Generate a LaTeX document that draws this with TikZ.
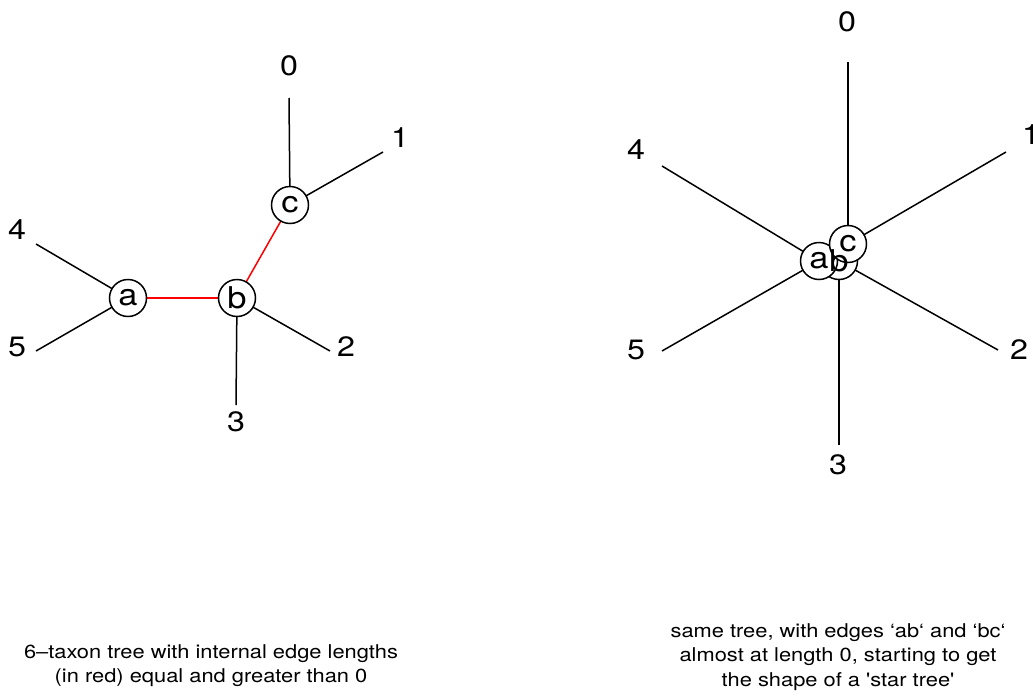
\documentclass[tikz,border=0pt]{standalone}
\usepackage{fontspec}
\setmainfont{TeX Gyre Heros}[FakeStretch=1.15]
\newfontfamily\capfont{TeX Gyre Heros}[Ligatures=TeXOff, FakeStretch=1.15]
\begin{document}
\begin{tikzpicture}[x=1pt, y=-1pt,
  vertex/.style={draw, circle, fill=white, line width=1.5pt, minimum size=37pt, inner sep=0pt},
  vertexletter/.style={inner sep=0pt, font=\fontsize{30}{32}\selectfont},
  leaflabel/.style={inner sep=0pt, font=\fontsize{28}{30}\selectfont},
  branch/.style={line width=1.5pt, black},
  inner/.style={line width=1.5pt, red},
  caption/.style={align=center, inner sep=0pt, font=\capfont\fontsize{19}{24.5}\selectfont}]
\useasboundingbox (0,0) rectangle (1033,696);
\clip (0,0) rectangle (1033,696);

% ---------- tree with positive internal edges ----------
\coordinate (p0) at (289,98);
\coordinate (p1) at (383,152);
\coordinate (p2) at (330,351);
\coordinate (p3) at (236,405);
\coordinate (p4) at (36,244);
\coordinate (p5) at (36,351);
\coordinate (pa) at (128,298);
\coordinate (pb) at (237,298);
\coordinate (pc) at (290,205);

\draw[branch] (pc) -- (p0);
\draw[branch] (pc) -- (p1);
\draw[branch] (pb) -- (p2);
\draw[branch] (pb) -- (p3);
\draw[branch] (pa) -- (p4);
\draw[branch] (pa) -- (p5);
\draw[inner] (pa) -- (pb);
\draw[inner] (pb) -- (pc);

\node[vertex] (na) at (pa) {};
\node[vertex] (nb) at (pb) {};
\node[vertex] (nc) at (pc) {};
\node[vertexletter] at (na) {a};
\node[vertexletter] at (nb) {b};
\node[vertexletter] at (nc) {c};

\node[leaflabel] (t0) at (289,66) {0};
\node[leaflabel] (t1) at (400,138) {1};
\node[leaflabel] (t2) at (346,347) {2};
\node[leaflabel] (t3) at (236,422) {3};
\node[leaflabel] (t4) at (17,230) {4};
\node[leaflabel] (t5) at (17,347) {5};

% ---------- same tree with nearly collapsed internal edges ----------
\coordinate (q0) at (848,62);
\coordinate (q1) at (1006,152);
\coordinate (q2) at (998,350);
\coordinate (q3) at (839,445);
\coordinate (q4) at (662,166);
\coordinate (q5) at (662,351);
\coordinate (qa) at (819,261);
\coordinate (qb) at (839,261);
\coordinate (qc) at (848,244);

\draw[branch] (qc) -- (q0);
\draw[branch] (qc) -- (q1);
\draw[branch] (qb) -- (q2);
\draw[branch] (qb) -- (q3);
\draw[branch] (qa) -- (q4);
\draw[branch] (qa) -- (q5);

\node[vertex] (mb) at (qb) {};
\node[vertex] (ma) at (qa) {};
\node[vertex] (mc) at (qc) {};
\node[vertexletter] at (ma) {a};
\node[vertexletter] at (mb) {b};
\node[vertexletter] at (mc) {c};

\node[leaflabel] (s0) at (847,22) {0};
\node[leaflabel] (s1) at (1031,135) {1};
\node[leaflabel] (s2) at (1019,350) {2};
\node[leaflabel] (s3) at (838,465) {3};
\node[leaflabel] (s4) at (636,150) {4};
\node[leaflabel] (s5) at (636,350) {5};

% ---------- captions ----------
\node[caption] (capL) at (211,665.5) {6–taxon tree with internal edge lengths\\(in red) equal and greater than 0};
\node[caption] (capR) at (838,657) {same tree, with edges ‘ab‘ and ‘bc‘\\almost at length 0, starting to get\\the shape of a 'star tree'};
\end{tikzpicture}
\end{document}
